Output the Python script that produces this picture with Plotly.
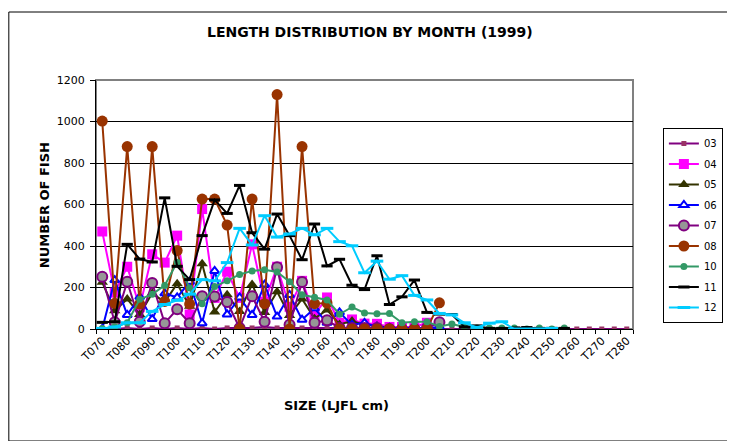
import plotly.graph_objects as go

categories = ["T070", "T075", "T080", "T085", "T090", "T095", "T100", "T105", "T110", "T115",
              "T120", "T125", "T130", "T135", "T140", "T145", "T150", "T155", "T160", "T165",
              "T170", "T175", "T180", "T185", "T190", "T195", "T200", "T205", "T210", "T215",
              "T220", "T225", "T230", "T235", "T240", "T245", "T250", "T255", "T260", "T265",
              "T270", "T275", "T280"]
tick_labels = ["T070", "T080", "T090", "T100", "T110", "T120", "T130", "T140", "T150", "T160",
               "T170", "T180", "T190", "T200", "T210", "T220", "T230", "T240", "T250", "T260",
               "T270", "T280"]

N = None
s03 = [0, 0, 5, 0, 5, 0, 5, 0, 5, 0, 5, 5, 5, 10, 5, 5, 5, 5, 5, 5, 5, 5, 5, 0, 0, 0, 0, 0, 0, 0,
       0, 0, 0, 0, 0, 0, 0, 0, 0, 0, 0, 0, 0]
s04 = [470, 175, 300, 105, 360, 320, 450, 70, 578, 150, 276, 150, 408, 132, 300, 107, 232, 68, 152,
       30, 46, 26, 25, 10, 10, 10, 30] + [N] * 16
s05 = [225, 88, 145, 70, 172, 130, 218, 110, 314, 82, 165, 84, 215, 80, 180, 65, 145, 50, 92, 22,
       38, 20, 15, 5, 5, 5, 5] + [N] * 16
s06 = [0, 236, 68, 155, 48, 172, 152, 228, 28, 280, 70, 152, 68, 214, 60, 164, 45, 100, 30, 80,
       20, 30, 10, 5, 5, 5, 5, 10] + [N] * 15
s07 = [252, 32, 228, 35, 222, 28, 95, 28, 158, 157, 130, 5, 158, 35, 298, 20, 227, 30, 42, 5,
       5, 5, 5, 0, 0, 0, 5, 32] + [N] * 15
s08 = [1002, 124, 879, 120, 879, 133, 378, 120, 626, 626, 501, 0, 626, 122, 1130, 0, 879, 122, 125,
       0, 0, 0, 0, 0, 0, 0, 0, 126] + [N] * 15
s10 = [3, 10, 30, 143, 167, 210, 322, 198, 122, 205, 232, 263, 280, 285, 275, 228, 165, 153, 140,
       71, 106, 77, 73, 75, 30, 35, 35, 12, 24, 10, 5, 5, 5, 5, 0, 5, 0, 5] + [N] * 5
s11 = [32, 35, 408, 337, 323, 632, 302, 238, 450, 622, 557, 692, 464, 385, 554, 450, 334, 506, 304,
       336, 211, 190, 353, 118, 155, 236, 80, 72, 70, 10, 15, 3, 3, 5, 7, 3, 3, 3] + [N] * 5
s12 = [3, 10, 30, 30, 85, 118, 138, 168, 238, 232, 320, 485, 405, 546, 443, 458, 485, 454, 485, 421,
       401, 271, 327, 240, 257, 162, 140, 75, 68, 30, 8, 28, 35, 0, 0, 0, 3] + [N] * 6

series = [
    dict(name="03", y=s03, line="#800080", sym="square", size=5, fill="#993366", ol="#993366", olw=0),
    dict(name="04", y=s04, line="#FF00FF", sym="square", size=10, fill="#FF00FF", ol="#FF00FF", olw=0),
    dict(name="05", y=s05, line="#333300", sym="triangle-up", size=10, fill="#333300", ol="#333300", olw=0),
    dict(name="06", y=s06, line="#0000FF", sym="triangle-up", size=8, fill="#FFFFFF", ol="#0000FF", olw=2),
    dict(name="07", y=s07, line="#800080", sym="circle", size=10, fill="#969696", ol="#800080", olw=2),
    dict(name="08", y=s08, line="#993300", sym="circle", size=11, fill="#993300", ol="#993300", olw=0),
    dict(name="10", y=s10, line="#339966", sym="circle", size=7, fill="#339966", ol="#339966", olw=0),
    dict(name="11", y=s11, line="#000000", sym="line-ew", size=8, fill="#000000", ol="#000000", olw=3),
    dict(name="12", y=s12, line="#00CCFF", sym="line-ew", size=9, fill="#00CCFF", ol="#00CCFF", olw=3),
]

FONT = "DejaVu Sans, Verdana, sans-serif"

# screen-space plot area (page has 8px body margin): x 96..635, y 80..329
def px(sx):
    return (sx - 96) / 539.0

def py(sy):
    return (329 - sy) / 249.0

fig = go.Figure()
for s in series:
    fig.add_trace(go.Scatter(
        x=categories, y=s["y"], name=s["name"], mode="lines+markers",
        legendgroup=s["name"],
        line=dict(color=s["line"], width=2),
        marker=dict(symbol=s["sym"], size=s["size"], color=s["fill"],
                    line=dict(color=s["ol"], width=s["olw"])),
        connectgaps=False,
    ))

ticktext = [c if c in tick_labels else "" for c in categories]

fig.update_layout(
    width=727, height=433,
    margin=dict(l=88, r=100, t=72, b=112),
    paper_bgcolor="white", plot_bgcolor="white",
    font=dict(family=FONT, size=11, color="black"),
    showlegend=True,
    legend=dict(x=px(665), y=py(128), xanchor="left", yanchor="top",
                bordercolor="black", borderwidth=1, bgcolor="white",
                font=dict(family=FONT, size=10, color="black"),
                tracegroupgap=1.5, traceorder="grouped", itemwidth=30),
    xaxis=dict(type="category", categoryorder="array", categoryarray=categories,
               range=[-0.5, len(categories) - 0.5],
               tickmode="array", tickvals=categories, ticktext=ticktext,
               tickson="boundaries", ticks="outside", ticklen=4, tickcolor="black",
               tickangle=-45, showgrid=False, showline=True, linecolor="black", linewidth=1,
               zeroline=False, tickfont=dict(family=FONT, size=11)),
    yaxis=dict(range=[0, 1200], tickmode="linear", tick0=0, dtick=200,
               ticks="outside", ticklen=5, tickcolor="black", ticklabelstandoff=3,
               showgrid=True, gridcolor="black", gridwidth=1,
               showline=True, linecolor="black", linewidth=1, zeroline=False,
               tickfont=dict(family=FONT, size=11)),
    shapes=[
        dict(type="rect", xref="paper", yref="paper", x0=0, x1=1, y0=0, y1=1,
             line=dict(color="#808080", width=2), layer="below"),
        dict(type="rect", xref="paper", yref="paper", x0=px(8.5), x1=px(733), y0=py(441), y1=py(12),
             line=dict(color="black", width=1), layer="above"),
    ],
    annotations=[
        dict(text="<b>LENGTH DISTRIBUTION BY MONTH (1999)</b>", xref="paper", yref="paper",
             x=px(371), y=py(32), xanchor="center", yanchor="middle",
             showarrow=False, font=dict(family=FONT, size=14, color="black")),
        dict(text="<b>NUMBER OF FISH</b>", xref="paper", yref="paper",
             x=px(44), y=py(205), xanchor="center", yanchor="middle",
             textangle=-90, showarrow=False, font=dict(family=FONT, size=13, color="black")),
        dict(text="<b>SIZE (LJFL cm)</b>", xref="paper", yref="paper",
             x=px(337), y=py(405), xanchor="center", yanchor="middle",
             showarrow=False, font=dict(family=FONT, size=13, color="black")),
    ],
)

fig.write_html("out.html")
